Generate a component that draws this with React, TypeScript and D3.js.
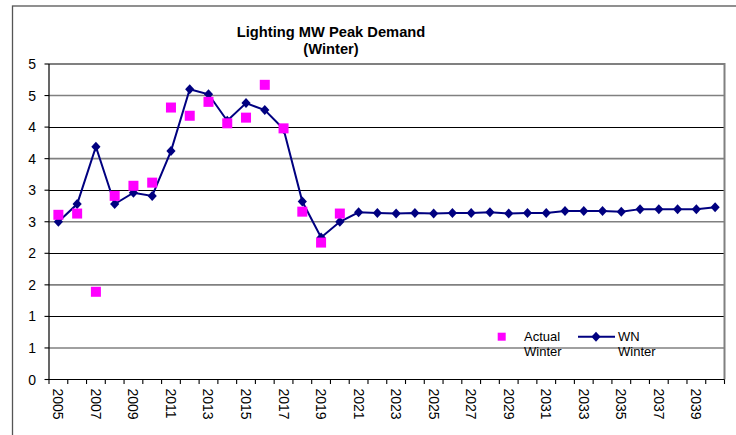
import React from "react";
import * as d3 from "d3";

const years = [
  "2005","2006","2007","2008","2009","2010","2011","2012","2013","2014","2015","2016",
  "2017","2018","2019","2020","2021","2022","2023","2024","2025","2026","2027","2028",
  "2029","2030","2031","2032","2033","2034","2035","2036","2037","2038","2039","2040",
];
const wnWinter = [
  2.50, 2.78, 3.69, 2.78, 2.96, 2.91, 3.62, 4.60, 4.52, 4.10, 4.38, 4.27,
  3.97, 2.82, 2.25, 2.50, 2.65, 2.64, 2.63, 2.64, 2.63, 2.64, 2.64, 2.65,
  2.63, 2.64, 2.64, 2.67, 2.67, 2.67, 2.66, 2.70, 2.70, 2.70, 2.70, 2.73,
];
const actualYears = years.slice(0, 16);
const actualWinter = [2.61, 2.63, 1.39, 2.91, 3.07, 3.12, 4.31, 4.18, 4.40, 4.06, 4.15, 4.67, 3.98, 2.66, 2.17, 2.63];
const yTicks = [0, 0.5, 1, 1.5, 2, 2.5, 3, 3.5, 4, 4.5, 5];
const xLabelYears = years.filter((_, i) => i % 2 === 0);
const titleLines = ["Lighting MW Peak Demand", "(Winter)"];
const legendActual = ["Actual", "Winter"];
const legendWN = ["WN", "Winter"];

const FONT = "'Liberation Sans', Arial, sans-serif";

export default function App() {
  const left = 49, right = 724.5, top = 64, bottom = 379.5;
  const x = d3.scaleBand<string>().domain(years).range([left, right]).padding(0);
  const y = d3.scaleLinear().domain([0, 5]).range([bottom, top]);
  const cx = (yr: string) => (x(yr) as number) + x.bandwidth() / 2;
  const line = d3
    .line<number>()
    .x((_, i) => cx(years[i]))
    .y((d) => y(d));
  const diamond = "M0,-5L4.6,0L0,5L-4.6,0Z";
  const crisp = (v: number) => Math.round(v) + 0.5;

  return (
    <svg
      width={736}
      height={435}
      style={{ position: "absolute", left: 0, top: 0, background: "#fff" }}
      fontFamily={FONT}
    >
      <rect x={0} y={0} width={736} height={435} fill="#fff" />
      {/* outer frame */}
      <rect x={12.5} y={6} width={760} height={460} fill="none" stroke="#555" strokeWidth={1.3} />
      {/* title */}
      <text x={331} y={37} textAnchor="middle" fontSize={14.7} fontWeight="bold">
        {titleLines[0]}
      </text>
      <text x={331} y={54} textAnchor="middle" fontSize={14.7} fontWeight="bold">
        {titleLines[1]}
      </text>
      {/* gridlines */}
      {yTicks.map((t) => {
        const isInt = Number.isInteger(t);
        if (t === 0) return null;
        return (
          <line
            key={t}
            x1={left}
            x2={right}
            y1={isInt ? crisp(y(t)) : y(t)}
            y2={isInt ? crisp(y(t)) : y(t)}
            stroke={isInt ? "#000" : "#808080"}
            strokeWidth={isInt ? 1 : 1.6}
          />
        );
      })}
      {/* plot top/right border */}
      <line x1={left} x2={right} y1={top} y2={top} stroke="#808080" strokeWidth={1.8} />
      <line x1={right} x2={right} y1={top - 0.9} y2={bottom} stroke="#808080" strokeWidth={2} />
      {/* y axis */}
      <line x1={left} x2={left} y1={top} y2={bottom} stroke="#000" strokeWidth={1.2} />
      {yTicks.map((t) => (
        <g key={"yt" + t}>
          <line x1={left - 4.5} x2={left} y1={y(t)} y2={y(t)} stroke="#000" strokeWidth={1.1} />
          <text x={36} y={y(t)} dy="0.36em" textAnchor="end" fontSize={14}>
            {String(Math.round(t))}
          </text>
        </g>
      ))}
      {/* x axis */}
      <line x1={left} x2={right} y1={bottom} y2={bottom} stroke="#000" strokeWidth={1.2} />
      {years.concat([""]).map((yr, i) => {
        const xp = left + i * x.bandwidth();
        return <line key={"xt" + i} x1={xp} x2={xp} y1={bottom} y2={bottom + 4.5} stroke="#000" strokeWidth={1.1} />;
      })}
      {xLabelYears.map((yr) => (
        <text
          key={"xl" + yr}
          transform={`translate(${cx(yr)},${bottom + 9}) rotate(90)`}
          dy="0.36em"
          textAnchor="start"
          fontSize={14}
        >
          {yr}
        </text>
      ))}
      {/* WN Winter line */}
      <path d={line(wnWinter) || ""} fill="none" stroke="#000080" strokeWidth={2} />
      {wnWinter.map((v, i) => (
        <path key={"d" + i} d={diamond} transform={`translate(${cx(years[i])},${y(v)})`} fill="#000080" />
      ))}
      {/* Actual Winter squares */}
      {actualWinter.map((v, i) => (
        <rect
          key={"s" + i}
          x={cx(actualYears[i]) - 5}
          y={y(v) - 5}
          width={10}
          height={10}
          fill="#FF00FF"
        />
      ))}
      {/* legend */}
      <rect x={497.7} y={332.7} width={8} height={8} fill="#FF00FF" />
      <text x={524} y={341} fontSize={13}>{legendActual[0]}</text>
      <text x={524} y={356} fontSize={13}>{legendActual[1]}</text>
      <line x1={578} x2={615} y1={336.7} y2={336.7} stroke="#000080" strokeWidth={2} />
      <path d={diamond} transform="translate(596,336.7)" fill="#000080" />
      <text x={618} y={341} fontSize={13}>{legendWN[0]}</text>
      <text x={618} y={356} fontSize={13}>{legendWN[1]}</text>
    </svg>
  );
}
